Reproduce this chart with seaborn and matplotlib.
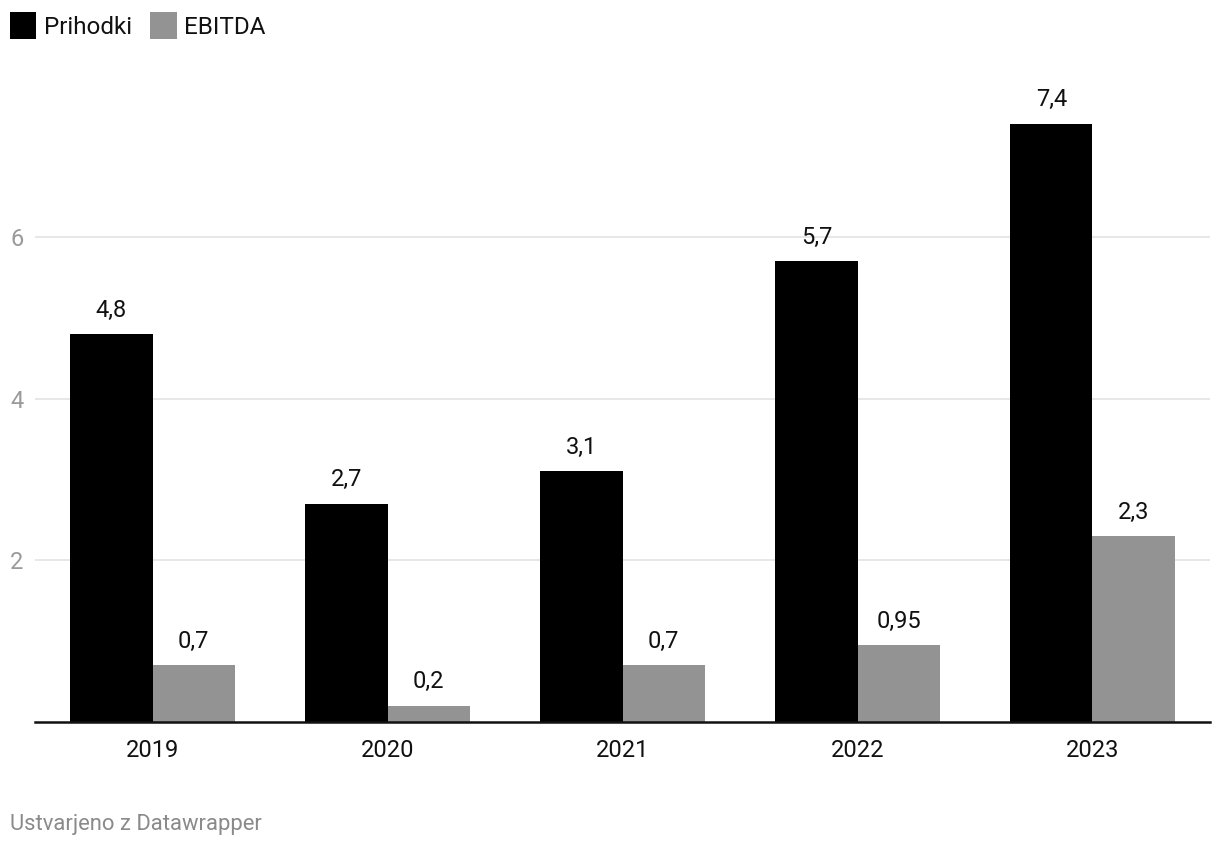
import numpy as np
import pandas as pd
import matplotlib.pyplot as plt
import seaborn as sns
from matplotlib.patches import Patch

# podatki
leta = ['2019', '2020', '2021', '2022', '2023']
prihodki = [4.8, 2.7, 3.1, 5.7, 7.4]
ebitda = [0.7, 0.2, 0.7, 0.95, 2.3]
serije = ['Prihodki', 'EBITDA']
barve = ['#000000', '#939393']

df = pd.DataFrame({
    'leto': leta * 2,
    'vrednost': prihodki + ebitda,
    'serija': [serije[0]] * len(leta) + [serije[1]] * len(leta),
})

sns.set_style('white')
plt.rcParams['font.family'] = ['Roboto', 'DejaVu Sans']

fig = plt.figure(figsize=(12.2, 8.44), dpi=100)
ax = fig.add_axes([0.0287, 0.1445, 0.9631, 0.7845])

sns.barplot(data=df, x='leto', y='vrednost', hue='serija', palette=barve,
            width=0.7, saturation=1, ax=ax, legend=False,
            edgecolor='none', linewidth=0)

# oznake vrednosti
for cont, vals in zip(ax.containers, [prihodki, ebitda]):
    lab = [('%g' % v).replace('.', ',') for v in vals]
    ax.bar_label(cont, labels=lab, padding=9, fontsize=17, color='#111111')

ax.set_xlim(-0.5, 4.5)
ax.set_ylim(0, 8.19)
ax.set_yticks([2, 4, 6])
ax.yaxis.grid(True, color='#e3e3e3', linewidth=1.2)
ax.set_axisbelow(True)
for s in ['top', 'right', 'left']:
    ax.spines[s].set_visible(False)
ax.spines['bottom'].set_color('#111111')
ax.spines['bottom'].set_linewidth(1.8)
ax.tick_params(axis='y', length=0, labelsize=17, labelcolor='#9a9a9a', pad=18)
ax.tick_params(axis='x', length=0, labelsize=17, labelcolor='#111111', pad=12)
for t in ax.get_yticklabels():
    t.set_horizontalalignment('left')
ax.set_xlabel('')
ax.set_ylabel('')

# legenda
handles = [Patch(facecolor=c, edgecolor='none') for c in barve]
fig.legend(handles, serije, loc='upper left', bbox_to_anchor=(-0.006, 1.006),
           ncol=2, frameon=False, fontsize=17.5, handlelength=1.1,
           handleheight=1.33, handletextpad=0.3, columnspacing=0.75,
           borderaxespad=0.3, labelcolor='#111111')

fig.text(0.008, 0.016, 'Ustvarjeno z Datawrapper', fontsize=15.8, color='#8a8a8a')

plt.savefig('out.png', dpi=100)
